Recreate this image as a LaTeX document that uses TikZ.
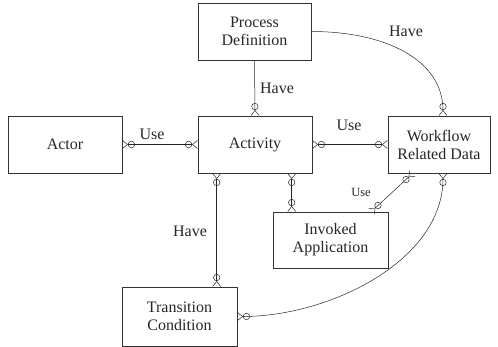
\documentclass[tikz,border=0pt]{standalone}
\usepackage{fontspec}
\setmainfont{Liberation Serif}
\usetikzlibrary{arrows.meta}
\begin{document}
\begin{tikzpicture}[x=1pt,y=-1pt,
  box/.style={draw=black!80, line width=0.6pt, inner sep=0pt, align=center,
    font=\fontsize{16}{18}\selectfont, text=black!85},
  lbl/.style={font=\fontsize{16}{18}\selectfont, text=black!85, inner sep=0pt},
  slbl/.style={font=\fontsize{12.5}{14}\selectfont, text=black!85, inner sep=0pt},
  zmtip/.tip={Circle[open,length=7pt,width=7pt] Straight Barb[reversed,length=5pt,width=8pt]},
  rel/.style={draw=black!85, line width=0.5pt, {zmtip}-{zmtip}},
  relend/.style={draw=black!85, line width=0.5pt, -{zmtip}}
]
\useasboundingbox (0,0) rectangle (498,347);

\node[box, minimum width=113pt, minimum height=57pt] (PD) at (254.5,31.5) {Process\\Definition};
\node[box, minimum width=114pt, minimum height=57pt] (Actor) at (65,144.5) {Actor};
\node[box, minimum width=114pt, minimum height=57pt] (Act) at (255,144.5) {Activity};
\node[box, minimum width=102pt, minimum height=57pt] (WRD) at (439,144.5) {Workflow\\Related Data};
\node[box, minimum width=115pt, minimum height=56pt] (IA) at (330.5,240) {Invoked\\Application};
\node[box, minimum width=115pt, minimum height=59pt] (TC) at (179.5,316.5) {Transition\\Condition};

\draw[relend] (PD.south) -- (Act.north);
\draw[rel] (Actor.east) -- (Act.west);
\draw[rel] (Act.east) -- (WRD.west);
\draw[rel] ([xshift=19pt]Act.south west) -- ([xshift=19pt]Act.south west |- TC.north);
\draw[rel] ([xshift=19pt]IA.north west |- Act.south) -- ([xshift=19pt]IA.north west);
\draw[rel] ([xshift=-17pt]IA.north east) -- ([xshift=25pt]WRD.south west);
\draw[relend] (PD.east) .. controls +(74,0) and +(0,-56) .. ([xshift=4pt]WRD.north);
\draw[rel] ([xshift=4pt]WRD.south) .. controls +(0,87) and +(93,0) .. (TC.east);

\node[lbl] (l1) at (277,88) {Have};
\node[lbl] (l2) at (152,134) {Use};
\node[lbl] (l3) at (349,125) {Use};
\node[lbl] (l4) at (406,31) {Have};
\node[lbl] (l5) at (190,231) {Have};
\node[slbl] (l6) at (361,192) {Use};
\end{tikzpicture}
\end{document}
